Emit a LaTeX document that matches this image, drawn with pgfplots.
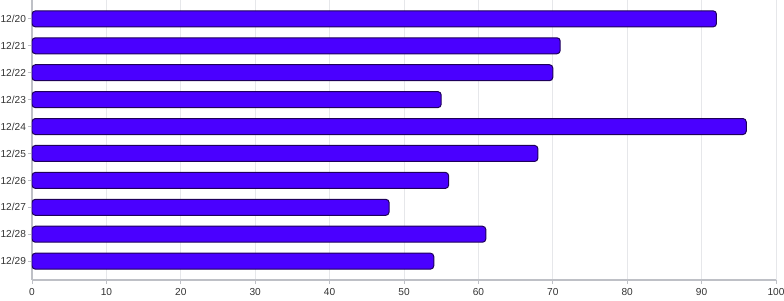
\documentclass[border=0pt]{standalone}
\usepackage{pgfplots}
\pgfplotsset{compat=1.18}
\usepackage{fontspec}
\setmainfont{Liberation Sans}
\definecolor{barfill}{RGB}{74,0,255}
\definecolor{barline}{RGB}{30,0,90}
\definecolor{axgray}{RGB}{190,192,198}
\definecolor{gridgray}{RGB}{230,231,234}
\begin{document}
\begin{tikzpicture}
\useasboundingbox (-24pt,-15pt) rectangle (564pt,210pt);
\begin{axis}[
  at={(0,0)}, anchor=south west,
  scale only axis, width=558pt, height=210pt,
  xbar, bar width=12pt,
  xmin=0, xmax=100, xtick={0,10,...,100},
  ymin=-0.7, ymax=9.7, y dir=reverse,
  ytick={0,...,9},
  yticklabels={12/20,12/21,12/22,12/23,12/24,12/25,12/26,12/27,12/28,12/29},
  axis x line*=bottom, axis y line*=left,
  axis line style={axgray, line width=0.9pt},
  x axis line style={-}, y axis line style={-},
  xmajorgrids, grid style={gridgray, line width=0.6pt},
  tick style={axgray, line width=0.6pt},
  major tick length=3pt, tick align=outside,
  ticklabel style={font=\fontsize{7.6pt}{9pt}\selectfont, text=black!80},
  /pgf/number format/assume math mode=true,
  yticklabel style={xshift=2pt},
]
\addplot[fill=barfill, draw=barline, line width=0.75pt, rounded corners=2.5pt]
  coordinates {(92,0) (71,1) (70,2) (55,3) (96,4) (68,5) (56,6) (48,7) (61,8) (54,9)};
\end{axis}
\end{tikzpicture}
\end{document}
